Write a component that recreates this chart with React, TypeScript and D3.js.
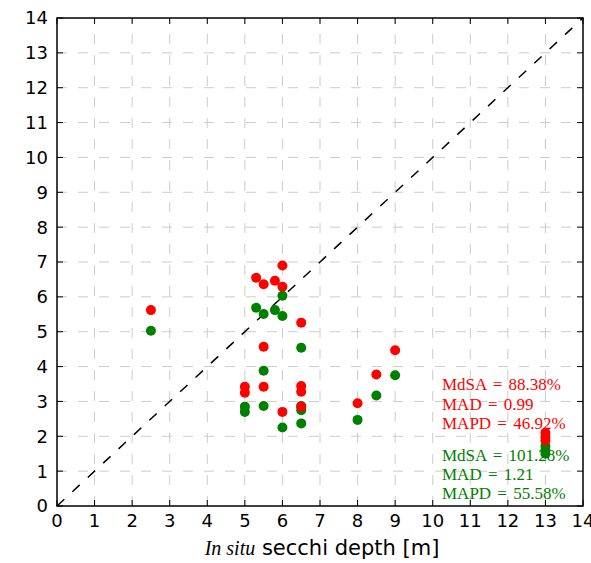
import React, { useRef, useEffect } from 'react';
import { select, scaleLinear, range } from 'd3';

const width = 591;
const height = 563;
const margin = { left: 57, right: 8, top: 18, bottom: 57 };

// in situ secchi depth [m] and the two retrieved depths for each station
const insitu = [2.5, 5.3, 5.5, 5.5, 5.5, 5.8, 6, 6, 6, 6.5, 6.5, 6.5, 6.5, 5, 5, 8, 8.5, 9, 13, 13, 13];
const redVals = [5.62, 6.55, 6.36, 4.57, 3.42, 6.46, 6.9, 6.29, 2.7, 5.26, 3.44, 3.28, 2.85, 3.42, 3.25, 2.95, 3.77, 4.47, 2.1, 1.98, 1.88];
const greenVals = [5.03, 5.69, 5.51, 3.88, 2.87, 5.62, 5.45, 6.03, 2.25, 4.54, 2.87, 2.75, 2.37, 2.85, 2.7, 2.47, 3.17, 3.75, 1.72, 1.6, 1.5];

const ticks = range(0, 15);
const redStats = ['MdSA = 88.38%', 'MAD = 0.99', 'MAPD = 46.92%'];
const greenStats = ['MdSA = 101.28%', 'MAD = 1.21', 'MAPD = 55.58%'];

const App = () => {
    const ref = useRef<SVGSVGElement>(null);

    useEffect(() => {
        const svg = select(ref.current);
        svg.selectAll('*').remove();

        const x = scaleLinear().domain([0, 14]).range([margin.left, width - margin.right]);
        const y = scaleLinear().domain([0, 14]).range([height - margin.bottom, margin.top]);
        const [x0, x1] = x.range();
        const [y0, y1] = y.range();

        svg.append('rect')
            .attr('width', width).attr('height', height).attr('fill', '#fff');

        // grid
        const grid = svg.append('g')
            .attr('stroke', '#cccccc')
            .attr('stroke-width', 1)
            .attr('stroke-dasharray', '10,11');
        grid.selectAll('.gx').data(ticks.slice(1, -1)).join('line')
            .attr('x1', d => x(d)).attr('x2', d => x(d))
            .attr('y1', y0).attr('y2', y1);
        grid.selectAll('.gy').data(ticks.slice(1, -1)).join('line')
            .attr('class', 'gy')
            .attr('x1', x0).attr('x2', x1)
            .attr('y1', d => y(d)).attr('y2', d => y(d));

        // 1:1 line
        svg.append('line')
            .attr('x1', x(0)).attr('y1', y(0))
            .attr('x2', x(14)).attr('y2', y(14))
            .attr('stroke', '#000')
            .attr('stroke-width', 1.5)
            .attr('stroke-dasharray', '10,11');

        // stats text (drawn under the points)
        const statFont = "'Liberation Serif', 'DejaVu Serif', serif";
        svg.append('g').selectAll('text').data(redStats).join('text')
            .attr('x', 442).attr('y', (d, i) => 390 + i * 19.5)
            .attr('fill', '#ff0000')
            .style('font-family', statFont)
            .style('font-size', '17px')
            .style('word-spacing', '2px')
            .text(d => d);
        svg.append('g').selectAll('text').data(greenStats).join('text')
            .attr('x', 442).attr('y', (d, i) => 461 + i * 19)
            .attr('fill', '#008000')
            .style('font-family', statFont)
            .style('font-size', '17px')
            .style('word-spacing', '2px')
            .text(d => d);

        // points, pair by pair
        const pts = svg.append('g');
        insitu.forEach((d, i) => {
            pts.append('circle')
                .attr('cx', x(d)).attr('cy', y(redVals[i])).attr('r', 5)
                .attr('fill', '#ff0000');
            pts.append('circle')
                .attr('cx', x(d)).attr('cy', y(greenVals[i])).attr('r', 5)
                .attr('fill', '#008000');
        });

        // ticks, inward on all four sides
        const tk = svg.append('g').attr('stroke', '#000').attr('stroke-width', 1);
        ticks.forEach(t => {
            tk.append('line').attr('x1', x(t)).attr('x2', x(t)).attr('y1', y0).attr('y2', y0 - 6);
            tk.append('line').attr('x1', x(t)).attr('x2', x(t)).attr('y1', y1).attr('y2', y1 + 6);
            tk.append('line').attr('y1', y(t)).attr('y2', y(t)).attr('x1', x0).attr('x2', x0 + 6);
            tk.append('line').attr('y1', y(t)).attr('y2', y(t)).attr('x1', x1).attr('x2', x1 - 6);
        });

        // frame
        svg.append('rect')
            .attr('x', x0).attr('y', y1)
            .attr('width', x1 - x0).attr('height', y0 - y1)
            .attr('fill', 'none')
            .attr('stroke', '#000')
            .attr('stroke-width', 1.5);

        const sans = "'DejaVu Sans', sans-serif";
        svg.append('g').selectAll('text').data(ticks).join('text')
            .attr('x', d => x(d)).attr('y', y0 + 21)
            .attr('text-anchor', 'middle')
            .style('font-family', sans).style('font-size', '18px')
            .text(d => d);
        svg.append('g').selectAll('text').data(ticks).join('text')
            .attr('x', x0 - 9).attr('y', d => y(d))
            .attr('dy', '0.36em')
            .attr('text-anchor', 'end')
            .style('font-family', sans).style('font-size', '18px')
            .text(d => d);

        const label = svg.append('text')
            .attr('x', (x0 + x1) / 2 + 2).attr('y', 555)
            .attr('text-anchor', 'middle')
            .style('font-family', sans).style('font-size', '21px');
        label.append('tspan')
            .style('font-family', "'Liberation Serif', serif")
            .style('font-style', 'italic')
            .style('font-size', '20px')
            .text('In situ');
        label.append('tspan').text(' secchi depth [m]');
    }, []);

    return (
        <svg
            ref={ref}
            width={width}
            height={height}
            style={{ position: 'absolute', left: 0, top: 0 }}
        ></svg>
    );
};

export default App;
